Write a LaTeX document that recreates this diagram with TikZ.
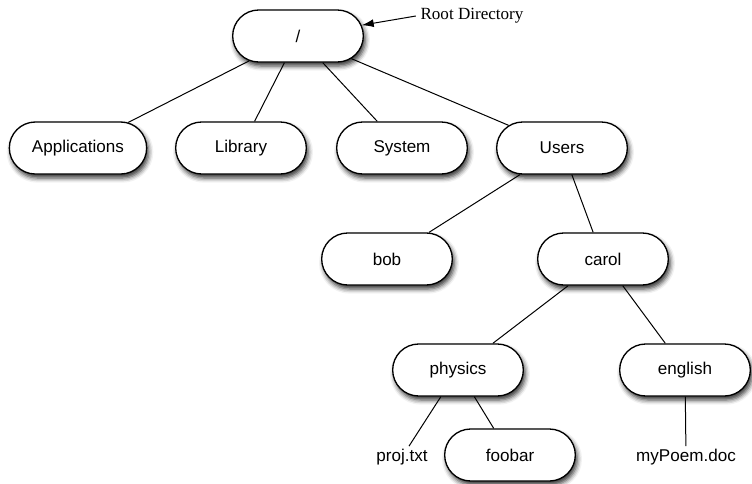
\documentclass[tikz,border=0pt]{standalone}
\usepackage{fontspec}
\setmainfont{Liberation Serif}
\setsansfont{Liberation Sans}
\usetikzlibrary{shapes.misc,shadows.blur,arrows.meta}
\tikzset{
  dir/.style={rounded rectangle, draw, line width=1pt, fill=white,
    minimum width=98pt, minimum height=39pt, inner xsep=0pt,
    font=\sffamily\fontsize{12.8}{15}\selectfont,
    blur shadow={shadow xshift=1.5pt, shadow yshift=-3pt,
      shadow blur radius=3.5pt, shadow opacity=80}},
  file/.style={inner sep=2pt, font=\sffamily\fontsize{12.8}{15}\selectfont},
  link/.style={line width=0.75pt}
}
\begin{document}
\begin{tikzpicture}[x=0.75pt,y=-0.75pt]
\useasboundingbox (0,0) rectangle (752,483);
% directories
\node[dir] (root) at (298,36) {/};
\node[dir, minimum width=103pt] (apps) at (78,148) {Applications};
\node[dir] (lib) at (241,148) {Library};
\node[dir] (sys) at (402,148) {System};
\node[dir] (users) at (562,148) {Users};
\node[dir] (bob) at (387,259) {bob};
\node[dir] (carol) at (603,259) {carol};
\node[dir] (phys) at (458,370) {physics};
\node[dir] (eng) at (685,370) {english};
\node[dir] (foobar) at (510,455) {foobar};
% plain files
\node[file] (proj) at (402,457) {proj.txt};
\node[file] (poem) at (686,457) {myPoem.doc};
\node[font=\fontsize{12.8}{15}\selectfont] (rootlabel) at (472,16) {Root Directory};
% links
\draw[link] (root) -- (apps);
\draw[link] (root) -- (lib);
\draw[link] (root) -- (sys);
\draw[link] (root) -- (users);
\draw[link] (users) -- (bob);
\draw[link] (users) -- (carol);
\draw[link] (carol) -- (phys);
\draw[link] (carol) -- (eng);
\draw[link] (phys) -- (proj);
\draw[link] (phys) -- (foobar);
\draw[link] (eng) -- (poem);
\draw[link, -{Latex[length=9pt,width=6pt]}] (rootlabel.west) -- (root);
\end{tikzpicture}
\end{document}
